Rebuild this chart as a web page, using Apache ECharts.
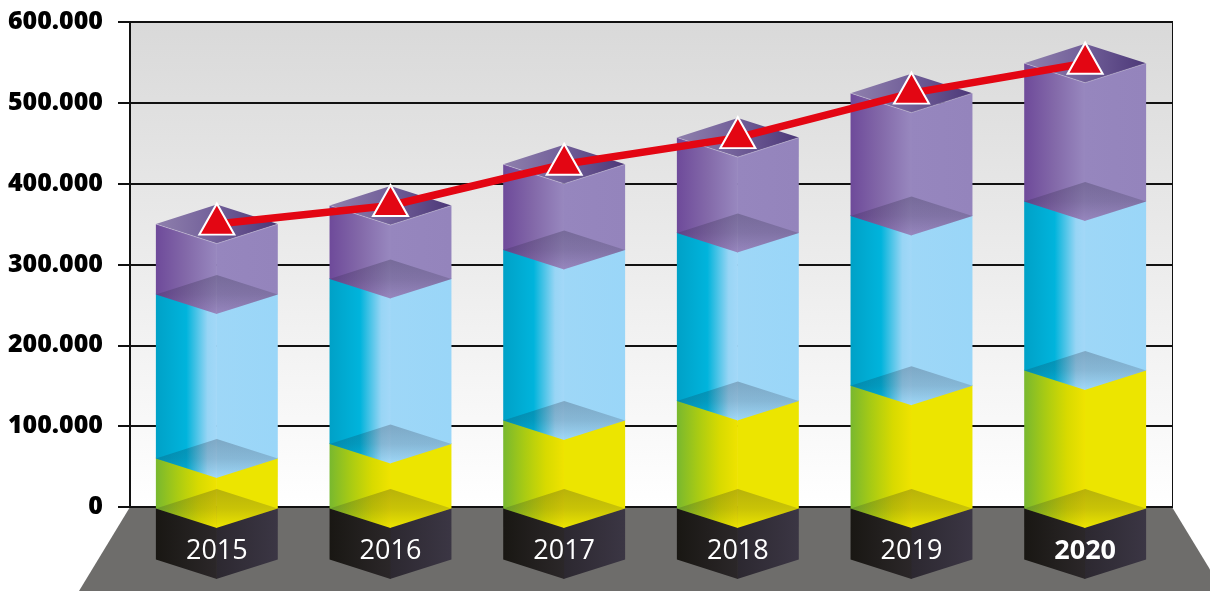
<!DOCTYPE html>
<html><head><meta charset="utf-8">
<style>html,body{margin:0;padding:0;background:#fff}#c{width:1210px;height:591px}</style>
<script src="https://cdn.jsdelivr.net/npm/echarts@6/dist/echarts.min.js"></script>
</head><body><div id="c"></div>
<script>
const years = ['2015','2016','2017','2018','2019','2020'];
const yellow = [60000,78000,107000,131000,150000,169000];
const blue = [203000,204000,211000,208000,210000,209000];
const purple = [87000,91000,106000,118000,152000,171000];
const totals = [350000,373000,424000,457000,512000,549000];
const blockBottom = -65000;
const blockTop = -2000;

const G = echarts.graphic.LinearGradient;
const hGrad = stops => new G(0,0,1,0,stops.map(s=>({offset:s[0],color:s[1]})));
const styles = {
  black: {left:[[0,'#191713'],[1,'#2b2729']], right:[[0,'#2c2830'],[1,'#3b3644']]},
  yellow:{left:[[0,'#78b82f'],[.35,'#a9cb13'],[.7,'#d8da00'],[1,'#efe300']], right:[[0,'#ece500'],[1,'#ece500']]},
  blue:  {left:[[0,'#00a1c7'],[.5,'#00b4dc'],[.6,'#2dbde2'],[.85,'#98d5f5'],[1,'#a3d8f8']], right:[[0,'#9ed7f7'],[1,'#9ad6f8']]},
  purple:{left:[[0,'#6e4a9a'],[.5,'#8369a9'],[1,'#9888bf']], right:[[0,'#9686be'],[1,'#9484bc']]}
};
function block(name, isTop){
  return function(params, api){
    const x = api.value(0), lo = api.coord([x, api.value(1)]), hi = api.coord([x, api.value(2)]);
    const hw = api.size([1,0])[0]*0.351, d = hw*0.32, cx = lo[0], yb = lo[1];
    // lower layers run a pixel under the next one so no seam lets a grid line through
    const yt = hi[1] - (isTop ? 0 : 1);
    const st = styles[name], ch = [];
    ch.push({type:'polygon',shape:{points:[[cx+hw,yt],[cx-0.6,yt+d],[cx-0.6,yb+d],[cx+hw,yb]]},style:{fill:hGrad(st.right)}});
    ch.push({type:'polygon',shape:{points:[[cx-hw,yt],[cx,yt+d],[cx,yb+d],[cx-hw,yb]]},style:{fill:hGrad(st.left)}});
    if(name!=='black'){
      ch.push({type:'polygon',shape:{points:[[cx-hw,yb],[cx,yb-d],[cx+hw,yb],[cx,yb+d]]},
        style:{fill:new G(0,0,0,1,[{offset:0,color:'rgba(20,20,40,0.24)'},{offset:.5,color:'rgba(20,20,40,0.16)'},{offset:1,color:'rgba(20,20,40,0)'}])}});
    }
    if(isTop){
      ch.push({type:'polygon',shape:{points:[[cx-hw,yt],[cx,yt-d],[cx+hw,yt],[cx,yt+d]]},
        style:{fill:hGrad([[0,'#8f80ad'],[.45,'#74629b'],[1,'#4c3878']])}});
      ch.push({type:'polyline',shape:{points:[[cx-hw,yt],[cx,yt+d],[cx+hw,yt]]},style:{stroke:'rgba(255,255,255,0.3)',lineWidth:1,fill:null}});
    }
    return {type:'group',children:ch};
  };
}
function layer(name, rows, z, isTop){
  return {type:'custom',z,silent:true,clip:false,renderItem:block(name,isTop),
    encode:{x:0,y:[1,2]},data:rows};
}
let acc1 = yellow.map(v=>v), acc2 = yellow.map((v,i)=>v+blue[i]);
const baseRows = years.map((y,i)=>[i,blockBottom,blockTop]);
const yellowRows = years.map((y,i)=>[i,blockTop,acc1[i]]);
const blueRows = years.map((y,i)=>[i,acc1[i],acc2[i]]);
const purpleRows = years.map((y,i)=>[i,acc2[i],totals[i]]);

const chart = echarts.init(document.getElementById('c'),null,{renderer:'canvas'});
chart.setOption({
  animation:false,
  backgroundColor:'#fff',
  grid:{left:130,right:38,top:22,bottom:84,show:true,borderColor:'#111',borderWidth:0,
    backgroundColor:new G(0,0,0,1,[{offset:0,color:'#d9d9d9'},{offset:1,color:'#ffffff'}])},
  xAxis:{type:'category',data:years,z:10,boundaryGap:true,
    axisLine:{show:false},axisTick:{show:false},splitLine:{show:false},
    axisLabel:{margin:31,color:'#fff',fontFamily:'Open Sans',fontSize:27,interval:0,
      formatter:v=>v==='2020'?'{b|'+v+'}':v,
      rich:{b:{fontFamily:'Open Sans',fontSize:27,fontWeight:'bold',color:'#fff'}}}},
  yAxis:{type:'value',min:0,max:600000,interval:100000,z:0,
    axisLine:{show:true,lineStyle:{color:'#111',width:2}},
    axisTick:{show:true,length:12,lineStyle:{color:'#111',width:2}},
    splitLine:{show:true,lineStyle:{color:'#111',width:2}},
    axisLabel:{margin:27,color:'#000',fontFamily:'Open Sans',fontSize:25,fontWeight:800,
      formatter:v=>String(v).replace(/\B(?=(\d{3})+$)/g,'.')}},
  series:[
    {type:'custom',z:-1,silent:true,clip:false,data:[[0]],encode:{x:0,y:1},
      renderItem(params,api){
        const c=params.coordSys, b=c.y+c.height, l=c.x, r=c.x+c.width, bot=api.getHeight();
        const dx=(bot-b)*0.607;
        return {type:'group',children:[
          {type:'polygon',shape:{points:[[l,b],[r,b],[r+dx,bot],[l-dx,bot]]},style:{fill:'#6e6d6b'}},
          {type:'line',shape:{x1:r,y1:c.y-1,x2:r,y2:b+1},style:{stroke:'#111',lineWidth:2}}
        ]};
      }},
    layer('black',baseRows,2),
    layer('yellow',yellowRows,3),
    layer('blue',blueRows,4),
    layer('purple',purpleRows,5,true),
    {type:'line',z:8,data:totals,silent:true,
      lineStyle:{color:'#e30613',width:7.5},
      symbol:'triangle',symbolSize:[35,31],symbolOffset:[0,-5],
      itemStyle:{color:'#e30613',borderColor:'#fff',borderWidth:2,opacity:1},
      showSymbol:true}
  ]
});
</script></body></html>
